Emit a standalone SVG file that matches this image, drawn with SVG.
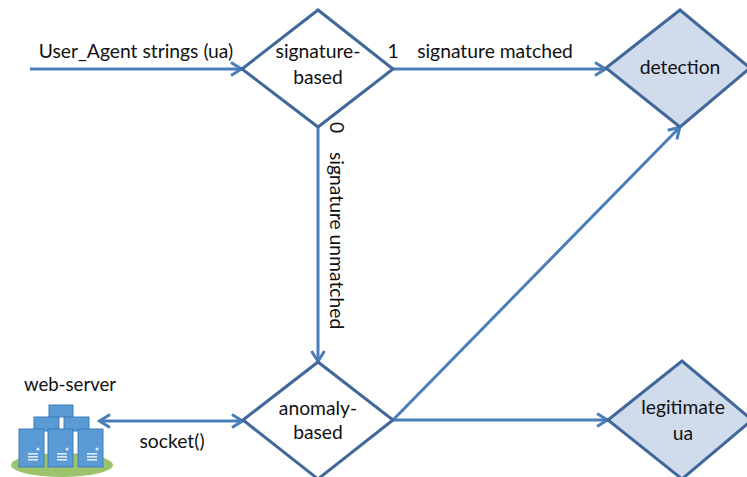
<svg xmlns="http://www.w3.org/2000/svg" width="747" height="477" viewBox="0 0 747 477">
<style>
text{font-family:Lato,"Liberation Sans",sans-serif;font-size:19.3px;fill:#111;text-anchor:middle}
.d{fill:#fff;stroke:#41689a;stroke-width:3}
.f{fill:#d0dbec;stroke:#41689a;stroke-width:3}
.c{fill:none;stroke:#4a7ebb;stroke-width:3}
.s{fill:#5b9bd5;stroke:#3f7fb8;stroke-width:1}
.w{fill:#fff;opacity:.8}
</style>
<defs>
<marker id="a" markerUnits="userSpaceOnUse" markerWidth="18" markerHeight="18" refX="14" refY="9" orient="auto-start-reverse"><path d="M3 2.5L13.5 9L3 15.5" fill="none" stroke="#4a7ebb" stroke-width="3"/></marker>
<g id="srv"><rect class="s" width="25" height="38"/><rect class="w" x="9" y="24" width="10" height="1.6"/><rect class="w" x="9" y="27" width="10" height="1.6"/><rect class="w" x="9" y="30" width="10" height="1.6"/><circle class="w" cx="19" cy="20" r="1.5"/></g>
</defs>
<rect width="747" height="477" fill="#fff"/>
<g id="connectors">
<path class="c" d="M30 69H242" marker-end="url(#a)"/>
<path class="c" d="M393 69H606" marker-end="url(#a)"/>
<path class="c" d="M318 127V362" marker-end="url(#a)"/>
<path class="c" d="M393 420L680 127" marker-end="url(#a)"/>
<path class="c" d="M393 420H608" marker-end="url(#a)"/>
<path class="c" d="M99 421H243" marker-start="url(#a)" marker-end="url(#a)"/>
</g>
<g id="node-signature"><path class="d" d="M242 69L318 10L393 69L318 127Z"/><text x="318" y="58">signature-</text><text x="318" y="84">based</text></g>
<g id="node-anomaly"><path class="d" d="M243 420L318 362L393 420L318 479Z"/><text x="318" y="415">anomaly-</text><text x="318" y="439">based</text></g>
<g id="node-detection"><path class="f" d="M606 68L680 10L750 68L680 127Z"/><text x="680" y="74">detection</text></g>
<g id="node-legitimate"><path class="f" d="M608 420L682 361L752 420L682 479Z"/><text x="683" y="414">legitimate</text><text x="683" y="440">ua</text></g>
<g id="node-webserver">
<text x="70" y="391" style="font-size:18.6px">web-server</text>
<ellipse cx="62" cy="465" rx="51" ry="12" fill="#9bc46c"/>
<rect class="s" x="49" y="405" width="24" height="12"/>
<rect class="s" x="34" y="417" width="25" height="14"/>
<rect class="s" x="64" y="417" width="25" height="14"/>
<use href="#srv" x="19" y="429"/><use href="#srv" x="48" y="429"/><use href="#srv" x="78" y="429"/>
</g>
<g id="labels">
<text x="136" y="58">User_Agent strings (ua)</text>
<text x="393" y="58">1</text>
<text x="495" y="58">signature matched</text>
<text x="172" y="448">socket()</text>
<text transform="translate(330 122) rotate(90)" style="text-anchor:start">0</text>
<text transform="translate(330 152) rotate(90)" style="text-anchor:start">signature unmatched</text>
</g>
</svg>
